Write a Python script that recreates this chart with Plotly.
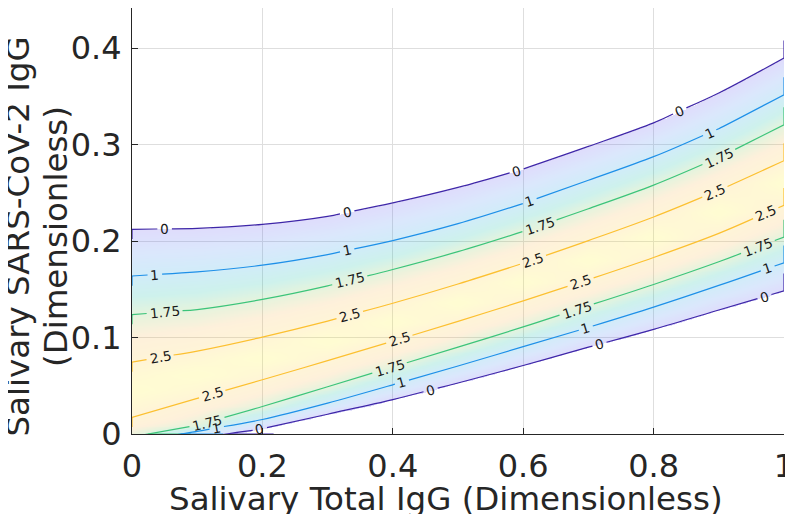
import numpy as np
import plotly.graph_objects as go

# x positions (Salivary Total IgG) at which the contour lines were read
x_read = [0.0, 0.1, 0.2, 0.3, 0.4, 0.5, 0.6, 0.7, 0.8, 0.9, 1.0]

# contour levels and their labels
levels = [0, 1, 1.75, 2.5]
level_text = ["0", "1", "1.75", "2.5"]
peak_value = 2.9  # estimated value on the ridge between the two 2.5 lines

# y (Salivary SARS-CoV-2 IgG) of each contour branch at x_read
upper_0 = [0.2121, 0.2131, 0.2173, 0.2256, 0.2395, 0.2556, 0.2747, 0.2981, 0.3225, 0.3535, 0.3898]
upper_1 = [0.1638, 0.1680, 0.1750, 0.1860, 0.2005, 0.2180, 0.2390, 0.2630, 0.2875, 0.3165, 0.3517]
upper_175 = [0.1237, 0.1290, 0.1395, 0.1535, 0.1705, 0.1890, 0.2100, 0.2335, 0.2580, 0.2865, 0.3206]
upper_25 = [0.0746, 0.0860, 0.1005, 0.1170, 0.1355, 0.1555, 0.1770, 0.2005, 0.2250, 0.2525, 0.2833]
lower_25 = [0.0172, 0.0370, 0.0562, 0.0760, 0.0962, 0.1168, 0.1380, 0.1600, 0.1830, 0.2080, 0.2370]
lower_175 = [-0.003, 0.0090, 0.0285, 0.0490, 0.0695, 0.0900, 0.1110, 0.1330, 0.1550, 0.1785, 0.2042]
lower_1 = [-0.008, 0.0027, 0.0150, 0.0320, 0.0510, 0.0705, 0.0905, 0.1105, 0.1315, 0.1540, 0.1775]
lower_0 = [-0.030, -0.006, 0.0055, 0.0205, 0.0357, 0.0529, 0.0710, 0.0900, 0.1085, 0.1285, 0.1485]

# where the labels sit along each line (x positions)
lab_upper_0 = [0.05, 0.33, 0.59, 0.84]
lab_upper_1 = [0.035, 0.33, 0.61, 0.886]
lab_upper_175 = [0.05, 0.334, 0.625, 0.90]
lab_upper_25 = [0.043, 0.334, 0.615, 0.894]
lab_lower_25 = [0.123, 0.41, 0.688, 0.972]
lab_lower_175 = [0.115, 0.395, 0.682, 0.96]
lab_lower_1 = [0.13, 0.414, 0.696, 0.975]
lab_lower_0 = [0.196, 0.458, 0.717, 0.97]

# -------------------------------------------------------
# styling (the page adds an 8px body margin, so the figure is a bit smaller)
# -------------------------------------------------------
W, H = 785, 506
M = dict(l=124, r=9, t=0, b=80)
XR, YR = [0, 1], [0, 0.4416]
FONT = "DejaVu Sans"
AX = "#262626"
ALPHA = 0.2
TICK_SIZE, TITLE_SIZE, LABEL_SIZE = 32, 32.5, 13.5
line_col = {0: (62, 38, 168), 1: (30, 144, 232), 1.75: (60, 196, 122), 2.5: (252, 192, 48)}
# fill colours (before transparency) at a few values of the field
fill_stops = [(0, (100, 85, 240)), (0.5, (80, 140, 245)), (1, (30, 165, 225)), (1.4, (15, 190, 165)),
              (1.75, (130, 200, 90)), (2.1, (250, 185, 80)), (2.5, (255, 205, 60)),
              (2.8, (255, 240, 40)), (3.0, (255, 250, 30))]

ZLO, ZHI = -0.5, 3.0
def pos(v):
    return (v - ZLO) / (ZHI - ZLO)

def rgb(c):
    return "rgb(%d,%d,%d)" % c

colorscale = [[0.0, "rgba(255,255,255,0)"], [pos(0) - 1e-6, "rgba(255,255,255,0)"]]
colorscale += [[pos(v), rgb(c)] for v, c in fill_stops]

# -------------------------------------------------------
# background field built from the read contour positions
# -------------------------------------------------------
y_grid = np.linspace(-0.02, 0.46, 321)
z = np.zeros((len(y_grid), len(x_read)))
for j in range(len(x_read)):
    ridge = 0.5 * (lower_25[j] + upper_25[j])
    ys = [lower_0[j] - (lower_1[j] - lower_0[j]), lower_0[j], lower_1[j], lower_175[j], lower_25[j],
          ridge, upper_25[j], upper_175[j], upper_1[j], upper_0[j], upper_0[j] + (upper_0[j] - upper_1[j])]
    zs = [-1, 0, 1, 1.75, 2.5, peak_value, 2.5, 1.75, 1, 0, -1]
    z[:, j] = np.interp(y_grid, ys, zs)

fig = go.Figure()
fig.add_trace(go.Heatmap(
    x=x_read, y=y_grid, z=z, zmin=ZLO, zmax=ZHI, colorscale=colorscale,
    zsmooth="best", opacity=ALPHA, showscale=False, hoverinfo="skip"))

# -------------------------------------------------------
# contour lines, broken where the labels sit, plus the short boundary pieces
# -------------------------------------------------------
branches = [
    (upper_0, 0, lab_upper_0, False), (upper_1, 1, lab_upper_1, False),
    (upper_175, 1.75, lab_upper_175, False), (upper_25, 2.5, lab_upper_25, False),
    (lower_25, 2.5, lab_lower_25, True), (lower_175, 1.75, lab_lower_175, True),
    (lower_1, 1, lab_lower_1, True), (lower_0, 0, lab_lower_0, True),
]

px_x = (W - M["l"] - M["r"]) / (XR[1] - XR[0])
px_y = (H - M["t"] - M["b"]) / (YR[1] - YR[0])

def text_width(t):
    return sum(0.636 * LABEL_SIZE if ch.isdigit() else 0.318 * LABEL_SIZE for ch in t)

annotations = []
for ys, lev, labx, lower in branches:
    col = rgb(line_col[lev])
    txt = level_text[levels.index(lev)]
    slope = np.gradient(np.array(ys), np.array(x_read))

    gaps = []
    for lx in labx:
        ly = float(np.interp(lx, x_read, ys))
        theta = np.arctan(float(np.interp(lx, x_read, slope)) * px_y / px_x)
        half = (text_width(txt) / 2 + 3) * np.cos(theta) / px_x
        gaps.append((lx - half, lx + half))
        annotations.append(dict(
            x=lx, y=ly, xref="x", yref="y", text=txt, showarrow=False,
            textangle=-np.degrees(theta), font=dict(family=FONT, size=LABEL_SIZE, color="#1a1a1a"),
            xanchor="center", yanchor="middle"))

    xs, yy = [], []
    for xv in sorted(set(x_read) | {a for a, b in gaps} | {b for a, b in gaps}):
        if any(a < xv < b for a, b in gaps):
            continue
        xs.append(xv)
        yy.append(ys[x_read.index(xv)] if xv in x_read else float(np.interp(xv, x_read, ys)))
        if any(abs(xv - a) < 1e-12 for a, b in gaps):
            xs.append(None)
            yy.append(None)

    xs += [None, 1, 1]
    yy += [None, ys[-1], ys[-1] + 0.018]
    if ys[0] >= 0:
        xs += [None, 0, 0]
        yy += [None, ys[0], ys[0] - 0.01]
    elif lower:
        x0 = float(np.interp(0, ys, x_read))
        xs += [None, x0, x0 + 0.065]
        yy += [None, 0, 0]
    fig.add_trace(go.Scatter(x=xs, y=yy, mode="lines", line=dict(color=col, width=1.2, shape="spline"),
                             hoverinfo="skip", showlegend=False))

# axis titles as annotations so they can sit where the original put them
for txt, xp in [("Salivary SARS-CoV-2 IgG", -0.1763), ("(Dimensionless)", -0.1173)]:
    annotations.append(dict(
        x=xp, y=0.4636, xref="paper", yref="paper", showarrow=False, textangle=-90,
        text=txt, xanchor="center", yanchor="middle",
        font=dict(family=FONT, size=TITLE_SIZE, color=AX)))
annotations.append(dict(
    x=0.4816, y=-0.153, xref="paper", yref="paper", showarrow=False,
    text="Salivary Total IgG (Dimensionless)", xanchor="center", yanchor="middle",
    font=dict(family=FONT, size=TITLE_SIZE, color=AX)))

fig.update_layout(
    width=W, height=H, margin=M,
    paper_bgcolor="white", plot_bgcolor="white",
    font=dict(family=FONT, size=TICK_SIZE, color=AX),
    showlegend=False, annotations=annotations,
)
fig.update_xaxes(
    range=XR, tickvals=[0, 0.2, 0.4, 0.6, 0.8, 1], ticktext=["0", "0.2", "0.4", "0.6", "0.8", "1"],
    automargin=False, showgrid=True, gridcolor="#dedede", gridwidth=1, zeroline=False,
    showline=True, linecolor=AX, linewidth=1, ticks="inside", ticklen=6, tickcolor=AX,
    tickfont=dict(size=TICK_SIZE, color=AX), ticklabelstandoff=4, ticklabeloverflow="allow",
)
fig.update_yaxes(
    range=YR, tickvals=[0, 0.1, 0.2, 0.3, 0.4], ticktext=["0", "0.1", "0.2", "0.3", "0.4"],
    automargin=False, showgrid=True, gridcolor="#dedede", gridwidth=1, zeroline=False,
    showline=True, linecolor=AX, linewidth=1, ticks="inside", ticklen=6, tickcolor=AX,
    tickfont=dict(size=TICK_SIZE, color=AX), ticklabelstandoff=3, ticklabeloverflow="allow",
)

fig.write_html("out.html")
